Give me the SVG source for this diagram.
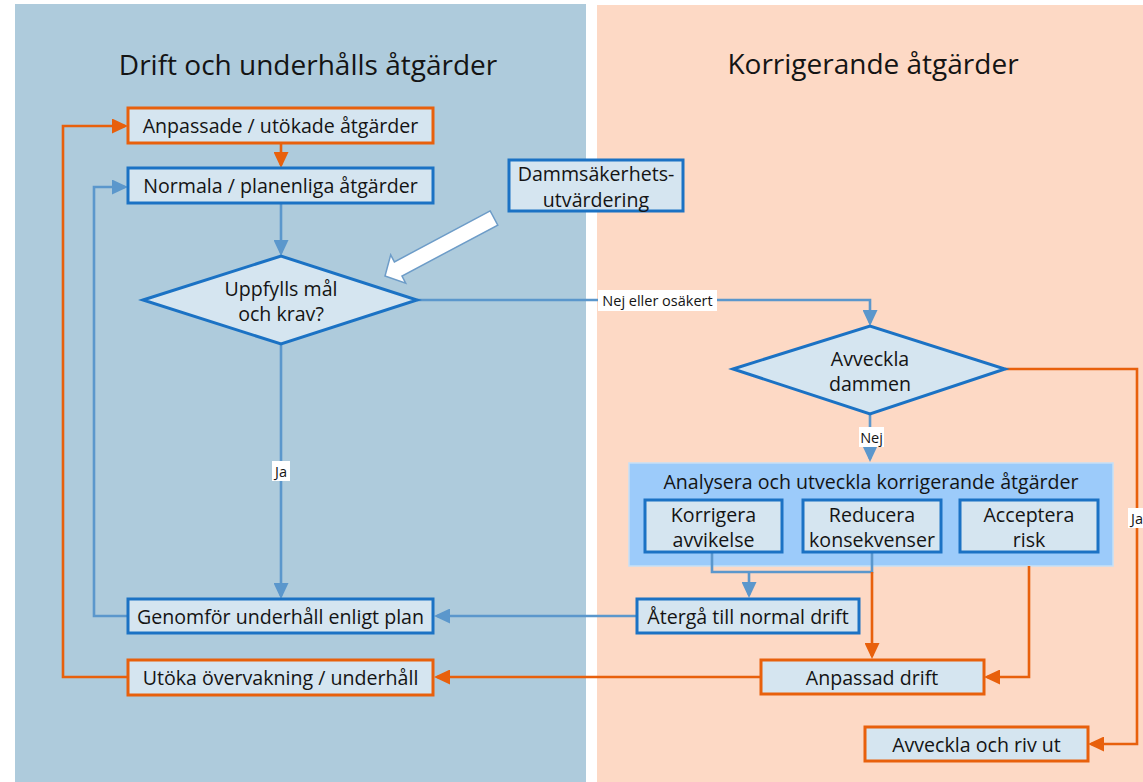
<svg xmlns="http://www.w3.org/2000/svg" width="1143" height="782" viewBox="0 0 1143 782">
<style>
.t{font-family:"Open Sans","Liberation Sans",sans-serif;fill:#141414;text-anchor:middle;dominant-baseline:central}
.title{font-size:28px}
.bt{font-size:19.6px}
.lb{font-size:14.5px}
.bx{fill:#d5e5f0;stroke-width:3}
.b{stroke:#1b72c4}
.o{stroke:#e8600c}
.cb{fill:none;stroke:#5b97cc;stroke-width:2.6}
.co{fill:none;stroke:#e8600c;stroke-width:2.6}
.lbg{fill:#ffffff}
</style>
<defs>
<marker id="ab" viewBox="0 0 16 15" refX="13" refY="7.5" markerWidth="16" markerHeight="15" markerUnits="userSpaceOnUse" orient="auto"><path d="M0,0 L16,7.5 L0,15 z" fill="#5b97cc"/></marker>
<marker id="ao" viewBox="0 0 16 15" refX="13" refY="7.5" markerWidth="16" markerHeight="15" markerUnits="userSpaceOnUse" orient="auto"><path d="M0,0 L16,7.5 L0,15 z" fill="#e8600c"/></marker>
</defs>
<rect x="0" y="0" width="1143" height="782" fill="#ffffff"/>
<g id="lanes">
<rect x="15" y="4" width="571" height="778" fill="#aecbdc"/>
<rect x="597" y="5" width="546" height="777" fill="#fdd9c5"/>
<text class="t title" x="308" y="64">Drift och underhålls åtgärder</text>
<text class="t title" x="873" y="63">Korrigerande åtgärder</text>
</g>
<g id="container">
<rect x="629" y="463" width="484" height="103" fill="#9ccbfa" stroke="#c6e0f6" stroke-width="1.5"/>
<text class="t bt" x="871" y="481">Analysera och utveckla korrigerande åtgärder</text>
</g>
<g id="connectors">
<path class="cb" d="M281,203 V253" marker-end="url(#ab)"/>
<path class="cb" d="M417,300 H870 V323" marker-end="url(#ab)"/>
<path class="cb" d="M870,414 V459" marker-end="url(#ab)"/>
<path class="cb" d="M281,344 V596" marker-end="url(#ab)"/>
<path class="cb" d="M128,616 H94 V187 H125" marker-end="url(#ab)"/>
<path class="cb" d="M712,552 V572 H872 V552"/>
<path class="cb" d="M749,572 V595" marker-end="url(#ab)"/>
<path class="cb" d="M637,616 H437" marker-end="url(#ab)"/>
<path class="co" d="M281,143 V165" marker-end="url(#ao)"/>
<path class="co" d="M128,677 H63 V126 H125" marker-end="url(#ao)"/>
<path class="co" d="M1005,369 H1137 V744 H1091" marker-end="url(#ao)"/>
<path class="co" d="M872,572 V656" marker-end="url(#ao)"/>
<path class="co" d="M1029,566 V677 H987" marker-end="url(#ao)"/>
<path class="co" d="M761,677 H437" marker-end="url(#ao)"/>
<rect class="lbg" x="598" y="290" width="119" height="21"/>
<text class="t lb" x="657.5" y="300.5">Nej eller osäkert</text>
<rect class="lbg" x="859" y="427" width="25" height="20"/>
<text class="t lb" x="871.5" y="437">Nej</text>
<rect class="lbg" x="272" y="461" width="18" height="20"/>
<text class="t lb" x="281" y="471">Ja</text>
<rect class="lbg" x="1128" y="508" width="15" height="20"/>
<text class="t lb" x="1137" y="518">Ja</text>
</g>
<g id="n-anpassade">
<rect class="bx o" x="128" y="108" width="305" height="35"/>
<text class="t bt" x="280.5" y="125.5">Anpassade / utökade åtgärder</text>
</g>
<g id="n-normala">
<rect class="bx b" x="128" y="168" width="305" height="35"/>
<text class="t bt" x="280.5" y="185.5">Normala / planenliga åtgärder</text>
</g>
<g id="n-damm">
<rect class="bx b" x="509" y="160" width="174" height="51"/>
<text class="t bt" x="596" y="173">Dammsäkerhets-</text>
<text class="t bt" x="596" y="199">utvärdering</text>
</g>
<g id="n-arrow">
<polygon points="490.2,210.9 394.4,261.9 390.7,254.9 385,276 405.7,283.1 402,276 497.8,225.1" fill="#ffffff" stroke="#6d9cc8" stroke-width="1.5" stroke-linejoin="miter"/>
</g>
<g id="n-uppfylls">
<polygon class="bx b" points="143,300 281,256 417,300 281,344"/>
<text class="t bt" x="281" y="288">Uppfylls mål</text>
<text class="t bt" x="281" y="313">och krav?</text>
</g>
<g id="n-avveckla">
<polygon class="bx b" points="733,369 870,326 1005,369 870,414"/>
<text class="t bt" x="870" y="358">Avveckla</text>
<text class="t bt" x="870" y="383">dammen</text>
</g>
<g id="n-korrigera">
<rect class="bx b" x="645" y="500" width="137" height="52"/>
<text class="t bt" x="713.5" y="514">Korrigera</text>
<text class="t bt" x="713.5" y="539">avvikelse</text>
</g>
<g id="n-reducera">
<rect class="bx b" x="803" y="500" width="138" height="52"/>
<text class="t bt" x="872" y="514">Reducera</text>
<text class="t bt" x="872" y="539">konsekvenser</text>
</g>
<g id="n-acceptera">
<rect class="bx b" x="960" y="500" width="138" height="52"/>
<text class="t bt" x="1029" y="514">Acceptera</text>
<text class="t bt" x="1029" y="539">risk</text>
</g>
<g id="n-atergaa">
<rect class="bx b" x="637" y="599" width="222" height="34"/>
<text class="t bt" x="748" y="616">Återgå till normal drift</text>
</g>
<g id="n-genomfor">
<rect class="bx b" x="128" y="599" width="305" height="34"/>
<text class="t bt" x="280.5" y="616">Genomför underhåll enligt plan</text>
</g>
<g id="n-utoka">
<rect class="bx o" x="128" y="660" width="305" height="35"/>
<text class="t bt" x="280.5" y="677">Utöka övervakning / underhåll</text>
</g>
<g id="n-anpassad-drift">
<rect class="bx o" x="761" y="660" width="223" height="34"/>
<text class="t bt" x="872" y="677">Anpassad drift</text>
</g>
<g id="n-riv">
<rect class="bx o" x="865" y="727" width="223" height="34"/>
<text class="t bt" x="976.5" y="744">Avveckla och riv ut</text>
</g>
</svg>
